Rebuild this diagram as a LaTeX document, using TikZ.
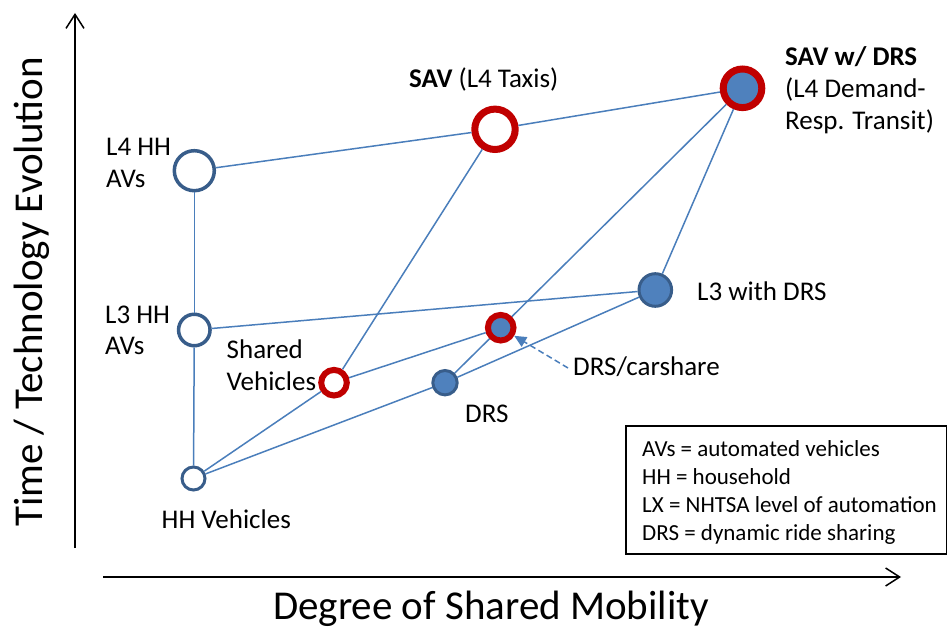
\documentclass[tikz,border=0pt]{standalone}
\usepackage{fontspec}
\setmainfont{Carlito}
\usetikzlibrary{arrows.meta}
\definecolor{lineblue}{HTML}{4A7EBB}
\definecolor{darkblue}{HTML}{385D8A}
\definecolor{fillblue}{HTML}{4F81BD}
\definecolor{ringred}{HTML}{C00000}
\begin{document}
\begin{tikzpicture}[x=1pt,y=-1pt,
  conn/.style={draw=lineblue, line width=1.5pt},
  axis/.style={draw=black, line width=1.5pt, -{Straight Barb[length=14pt,width=18pt,line width=1.5pt]}},
  opennode/.style={circle, draw=darkblue, fill=white, inner sep=0pt},
  bluenode/.style={circle, draw=darkblue, fill=fillblue, inner sep=0pt, line width=3pt},
  redring/.style={circle, draw=ringred, fill=white, inner sep=0pt},
  redblue/.style={circle, draw=ringred, fill=fillblue, inner sep=0pt},
  lbl/.style={anchor=base west, inner sep=0pt, font=\fontsize{27}{32}\selectfont},
  leg/.style={anchor=base west, inner sep=0pt, font=\fontsize{23}{28}\selectfont},
  axlbl/.style={inner sep=0pt, font=\fontsize{41}{48}\selectfont}
]
\useasboundingbox (0,0) rectangle (947,631);

% axes
\coordinate (yb) at (75,548);
\coordinate (yt) at (75,13);
\coordinate (xl) at (103,577);
\coordinate (xr) at (901,577);
\draw[axis] (yb) -- (yt);
\draw[axis] (xl) -- (xr);
\node[axlbl, rotate=90, anchor=base] (ylab) at (42,292) {Time / Technology Evolution};
\node[axlbl, anchor=base] (xlab) at (491,619) {Degree of Shared Mobility};

% nodes
\node[opennode, minimum size=23pt, line width=3pt] (hhv) at (193.5,478.5) {};
\node[opennode, minimum size=31.5pt, line width=3.5pt] (l3hh) at (194.3,330) {};
\node[opennode, minimum size=40pt, line width=3.5pt] (l4hh) at (194.3,170.7) {};
\node[redring, minimum size=40.4pt, line width=7pt] (sav) at (495,129.3) {};
\node[redblue, minimum size=38.6pt, line width=7pt] (savdrs) at (742.5,88.3) {};
\node[bluenode, minimum size=32.6pt] (l3drs) at (655.3,290) {};
\node[redblue, minimum size=25.6pt, line width=6pt] (drscar) at (500.7,327.7) {};
\node[redring, minimum size=25.6pt, line width=6pt] (shv) at (334,382.7) {};
\node[bluenode, minimum size=24.4pt] (drs) at (445,382.7) {};

% connectors
\draw[conn] (hhv) -- (l3hh);
\draw[conn] (l3hh) -- (l4hh);
\draw[conn] (l4hh) -- (sav);
\draw[conn] (sav) -- (savdrs);
\draw[conn] (l3hh) -- (l3drs);
\draw[conn] (l3drs) -- (savdrs);
\draw[conn] (hhv) -- (shv);
\draw[conn] (hhv) -- (drs);
\draw[conn] (shv) -- (sav);
\draw[conn] (shv) -- (drscar);
\draw[conn] (drs) -- (drscar);
\draw[conn] (drscar) -- (savdrs);
\draw[conn] (drs) -- (l3drs);

% dashed pointer
\coordinate (dstart) at (568,368);
\draw[draw=lineblue, line width=1.5pt, dash pattern=on 6pt off 3.5pt,
  -{Triangle[length=12pt,width=11pt,fill=lineblue]}] (dstart) -- (drscar);

% labels
\node[lbl] (l4a) at (106,156) {L4 HH};
\node[lbl] (l4b) at (106,188) {AVs};
\node[lbl] (l3a) at (105,323) {L3 HH};
\node[lbl] (l3b) at (105,354) {AVs};
\node[lbl] (shva) at (226.5,358.5) {Shared};
\node[lbl] (shvb) at (226.5,390) {Vehicles};
\node[lbl] (hhvl) at (161.5,528) {HH Vehicles};
\node[lbl] (drsl) at (465,422.3) {DRS};
\node[lbl] (drscl) at (573,375) {DRS/carshare};
\node[lbl] (l3drsl) at (697,300) {L3 with DRS};
\node[lbl] (savl) at (409,87.3) {\textbf{SAV} (L4 Taxis)};
\node[lbl] (savdrsa) at (785,66) {\textbf{SAV w/ DRS}};
\node[lbl] (savdrsb) at (785,98) {(L4 Demand-};
\node[lbl] (savdrsc) at (785,130) {Resp. Transit)};

% legend
\node[draw=black, line width=1.5pt, inner sep=0pt, minimum width=321pt, minimum height=128pt, anchor=north west] (legbox) at (625,425) {};
\node[leg] (lg1) at (642,456) {AVs = automated vehicles};
\node[leg] (lg2) at (642,484) {HH = household};
\node[leg] (lg3) at (642,512) {LX = NHTSA level of automation};
\node[leg] (lg4) at (642,540) {DRS = dynamic ride sharing};
\end{tikzpicture}
\end{document}
